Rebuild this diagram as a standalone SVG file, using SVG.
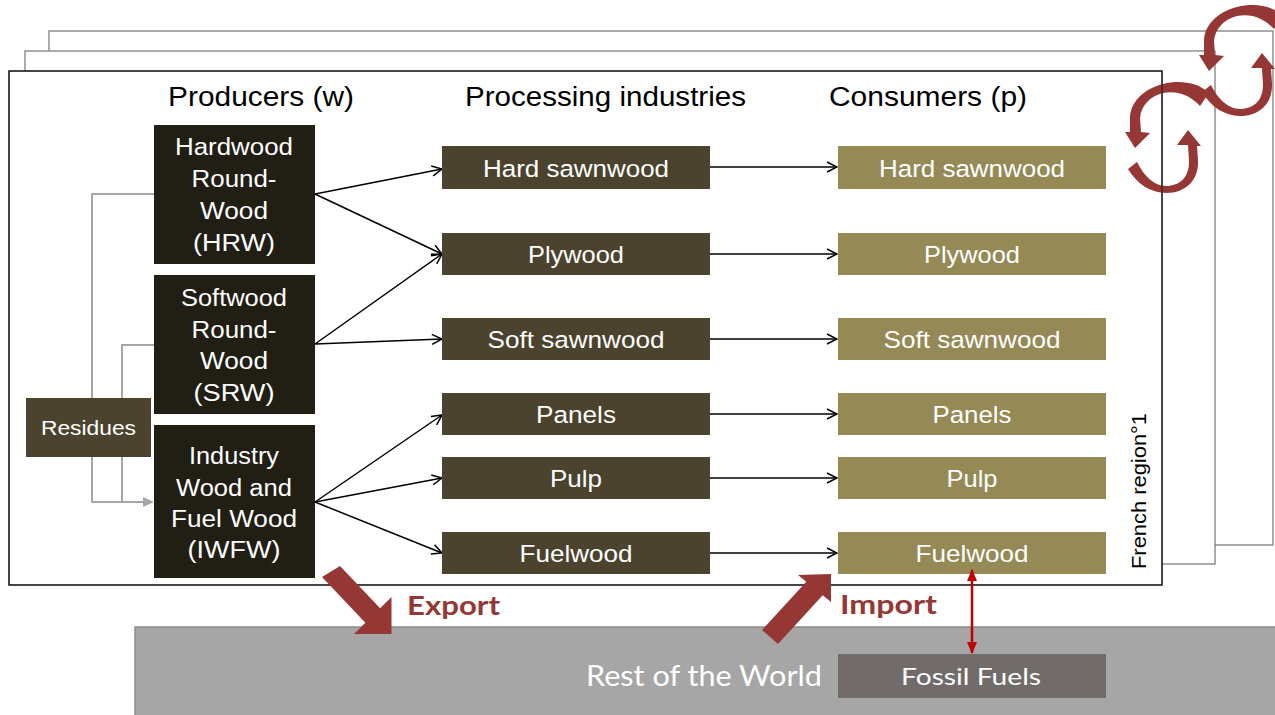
<svg xmlns="http://www.w3.org/2000/svg" width="1275" height="715" viewBox="0 0 1275 715">
<style>
.t{font-family:"Liberation Sans",Arial,sans-serif;fill:#fff;text-anchor:middle}
.title{font-family:"Liberation Sans",Arial,sans-serif;fill:#000;font-size:27px}
.prod{fill:#211e13}
.proc{fill:#4b432d}
.cons{fill:#958a55}
.lbl{font-size:24.5px}
.plbl{font-size:23.5px}
.conn{stroke:#000;stroke-width:1.5;fill:none;marker-end:url(#open)}
.gray{stroke:#a6a6a6;stroke-width:2;fill:none}
.red{fill:#953735}
.cal{font-family:Lato,"Open Sans",sans-serif}
</style>
<defs>
<marker id="open" viewBox="0 0 12 12" refX="11" refY="6" markerWidth="12" markerHeight="12" markerUnits="userSpaceOnUse" orient="auto">
<path d="M1,1 L11,6 L1,11" fill="none" stroke="#000" stroke-width="1.5"/>
</marker>
<marker id="redtri" viewBox="0 0 12 10" refX="11" refY="5" markerWidth="12" markerHeight="10" markerUnits="userSpaceOnUse" orient="auto-start-reverse">
<path d="M0,0 L12,5 L0,10 Z" fill="#c00000"/>
</marker>
<g id="spin">
<path class="red" d="M1209,93 C1197,82 1180,80 1163,84 C1143,89 1130,103 1130,118 L1130,132 L1125,132 L1135,148 L1150,133 L1141,132 L1140,118 C1141,106 1150,96 1163,93 C1178,90 1191,96 1200,106 Z"/>
<path class="red" d="M1128,169 C1137,184 1151,193 1166,193 C1186,193 1199,180 1198,160 L1197,146 L1201,146 L1188,130 L1177,145 L1188,145 L1189,162 C1189,177 1180,186 1166,186 C1154,186 1144,176 1137,162 Z"/>
</g>
</defs>
<rect width="1275" height="715" fill="#fff"/>
<g id="frames">
<rect x="49" y="31" width="1224" height="514" fill="#fff" stroke="#7f7f7f" stroke-width="1.3"/>
<rect x="25" y="51" width="1190" height="513" fill="#fff" stroke="#7f7f7f" stroke-width="1.3"/>
<rect x="9" y="71" width="1153" height="514" fill="#fff" stroke="#222" stroke-width="1.2"/>
</g>
<g id="rotation">
<use href="#spin"/>
<use href="#spin" transform="translate(74,-77)"/>
</g>
<rect x="9" y="71" width="1153" height="514" fill="none" stroke="#222" stroke-width="1.2"/>
<text class="title" x="168" y="106" textLength="186" lengthAdjust="spacingAndGlyphs">Producers (w)</text>
<text class="title" x="465" y="106" textLength="281" lengthAdjust="spacingAndGlyphs">Processing industries</text>
<text class="title" x="829" y="106" textLength="198" lengthAdjust="spacingAndGlyphs">Consumers (p)</text>
<g id="world">
<rect x="135" y="627" width="1141" height="89" fill="#a6a6a6" stroke="#8c8c8c" stroke-width="1.5"/>
<text class="cal" x="822" y="686" font-size="29" fill="#fff" text-anchor="end" textLength="236" lengthAdjust="spacingAndGlyphs">Rest of the World</text>
</g>
<g id="connectors">
<path class="gray" d="M154,194 H92 V398 M92,457 V502 H144"/>
<path class="gray" d="M154,345 H122 V398 M122,457 V502"/>
<path d="M143,497 L154,502 L143,507 Z" fill="#a6a6a6"/>
<line class="conn" x1="315" y1="194" x2="442" y2="169"/>
<line class="conn" x1="315" y1="194" x2="442" y2="254"/>
<line class="conn" x1="315" y1="344" x2="442" y2="254"/>
<line class="conn" x1="315" y1="344" x2="442" y2="339"/>
<line class="conn" x1="315" y1="502" x2="442" y2="415"/>
<line class="conn" x1="315" y1="502" x2="442" y2="478"/>
<line class="conn" x1="315" y1="502" x2="442" y2="553"/>
<line class="conn" x1="710" y1="167" x2="837" y2="167"/>
<line class="conn" x1="710" y1="254" x2="837" y2="254"/>
<line class="conn" x1="710" y1="339" x2="837" y2="339"/>
<line class="conn" x1="710" y1="414" x2="837" y2="414"/>
<line class="conn" x1="710" y1="478" x2="837" y2="478"/>
<line class="conn" x1="710" y1="553" x2="837" y2="553"/>
</g>
<g id="residues">
<rect class="proc" x="26" y="398" width="125" height="59"/>
<text class="t" x="88.5" y="435" font-size="21" textLength="95" lengthAdjust="spacingAndGlyphs">Residues</text>
</g>
<g id="hrw">
<rect class="prod" x="154" y="125" width="161" height="139"/>
<text class="t plbl" x="234" y="155" textLength="118" lengthAdjust="spacingAndGlyphs">Hardwood</text>
<text class="t plbl" x="234" y="187" textLength="85" lengthAdjust="spacingAndGlyphs">Round-</text>
<text class="t plbl" x="234" y="219" textLength="68" lengthAdjust="spacingAndGlyphs">Wood</text>
<text class="t plbl" x="234" y="250.5" textLength="82" lengthAdjust="spacingAndGlyphs">(HRW)</text>
</g>
<g id="srw">
<rect class="prod" x="154" y="275" width="161" height="139"/>
<text class="t plbl" x="234" y="306" textLength="106" lengthAdjust="spacingAndGlyphs">Softwood</text>
<text class="t plbl" x="234" y="337.5" textLength="85" lengthAdjust="spacingAndGlyphs">Round-</text>
<text class="t plbl" x="234" y="369" textLength="68" lengthAdjust="spacingAndGlyphs">Wood</text>
<text class="t plbl" x="234" y="400.5" textLength="81" lengthAdjust="spacingAndGlyphs">(SRW)</text>
</g>
<g id="iwfw">
<rect class="prod" x="154" y="425" width="161" height="153"/>
<text class="t plbl" x="234" y="464" textLength="90" lengthAdjust="spacingAndGlyphs">Industry</text>
<text class="t plbl" x="234" y="495.5" textLength="116" lengthAdjust="spacingAndGlyphs">Wood and</text>
<text class="t plbl" x="234" y="527" textLength="126" lengthAdjust="spacingAndGlyphs">Fuel Wood</text>
<text class="t plbl" x="234" y="558" textLength="93" lengthAdjust="spacingAndGlyphs">(IWFW)</text>
</g>
<g id="proc-hard"><rect class="proc" x="442" y="146" width="268" height="43"/><text class="t lbl" x="576" y="176.5" textLength="186" lengthAdjust="spacingAndGlyphs">Hard sawnwood</text></g>
<g id="proc-ply"><rect class="proc" x="442" y="233" width="268" height="42"/><text class="t lbl" x="576" y="263" textLength="96" lengthAdjust="spacingAndGlyphs">Plywood</text></g>
<g id="proc-soft"><rect class="proc" x="442" y="318" width="268" height="42"/><text class="t lbl" x="576" y="348" textLength="177" lengthAdjust="spacingAndGlyphs">Soft sawnwood</text></g>
<g id="proc-panels"><rect class="proc" x="442" y="393" width="268" height="42"/><text class="t lbl" x="576" y="423" textLength="80" lengthAdjust="spacingAndGlyphs">Panels</text></g>
<g id="proc-pulp"><rect class="proc" x="442" y="457" width="268" height="42"/><text class="t lbl" x="576" y="487" textLength="52" lengthAdjust="spacingAndGlyphs">Pulp</text></g>
<g id="proc-fuel"><rect class="proc" x="442" y="532" width="268" height="42"/><text class="t lbl" x="576" y="562" textLength="113" lengthAdjust="spacingAndGlyphs">Fuelwood</text></g>
<g id="cons-hard"><rect class="cons" x="838" y="146" width="268" height="43"/><text class="t lbl" x="972" y="176.5" textLength="186" lengthAdjust="spacingAndGlyphs">Hard sawnwood</text></g>
<g id="cons-ply"><rect class="cons" x="838" y="233" width="268" height="42"/><text class="t lbl" x="972" y="263" textLength="96" lengthAdjust="spacingAndGlyphs">Plywood</text></g>
<g id="cons-soft"><rect class="cons" x="838" y="318" width="268" height="42"/><text class="t lbl" x="972" y="348" textLength="177" lengthAdjust="spacingAndGlyphs">Soft sawnwood</text></g>
<g id="cons-panels"><rect class="cons" x="838" y="393" width="268" height="42"/><text class="t lbl" x="972" y="423" textLength="79" lengthAdjust="spacingAndGlyphs">Panels</text></g>
<g id="cons-pulp"><rect class="cons" x="838" y="457" width="268" height="42"/><text class="t lbl" x="972" y="487" textLength="51" lengthAdjust="spacingAndGlyphs">Pulp</text></g>
<g id="cons-fuel"><rect class="cons" x="838" y="532" width="268" height="42"/><text class="t lbl" x="972" y="562" textLength="113" lengthAdjust="spacingAndGlyphs">Fuelwood</text></g>
<text transform="translate(1146,569) rotate(-90)" font-family="Liberation Sans,Arial,sans-serif" font-size="21" fill="#000" textLength="156" lengthAdjust="spacingAndGlyphs">French region°1</text>
<g id="fossil">
<rect x="838" y="654" width="268" height="44" fill="#716b6a"/>
<text class="cal" x="971" y="685" font-size="24" fill="#fff" text-anchor="middle" textLength="140" lengthAdjust="spacingAndGlyphs">Fossil Fuels</text>
</g>
<g id="fuel-link">
<line x1="972" y1="570" x2="972" y2="653" stroke="#c00000" stroke-width="2.5" marker-start="url(#redtri)" marker-end="url(#redtri)"/>
</g>
<g id="export">
<polygon class="red" points="322,577 365.4,622.7 354,634 391.5,634 391.5,597 380.1,608.2 340,566"/>
<text class="cal" x="407" y="615" font-size="27" font-weight="bold" fill="#953735" textLength="93" lengthAdjust="spacingAndGlyphs">Export</text>
</g>
<g id="import">
<polygon class="red" points="762,630 806.3,581.75 798,575 831,574 831,602 822.7,595.2 778,644"/>
<text class="cal" x="840" y="614" font-size="27" font-weight="bold" fill="#953735" textLength="97" lengthAdjust="spacingAndGlyphs">Import</text>
</g>
</svg>
